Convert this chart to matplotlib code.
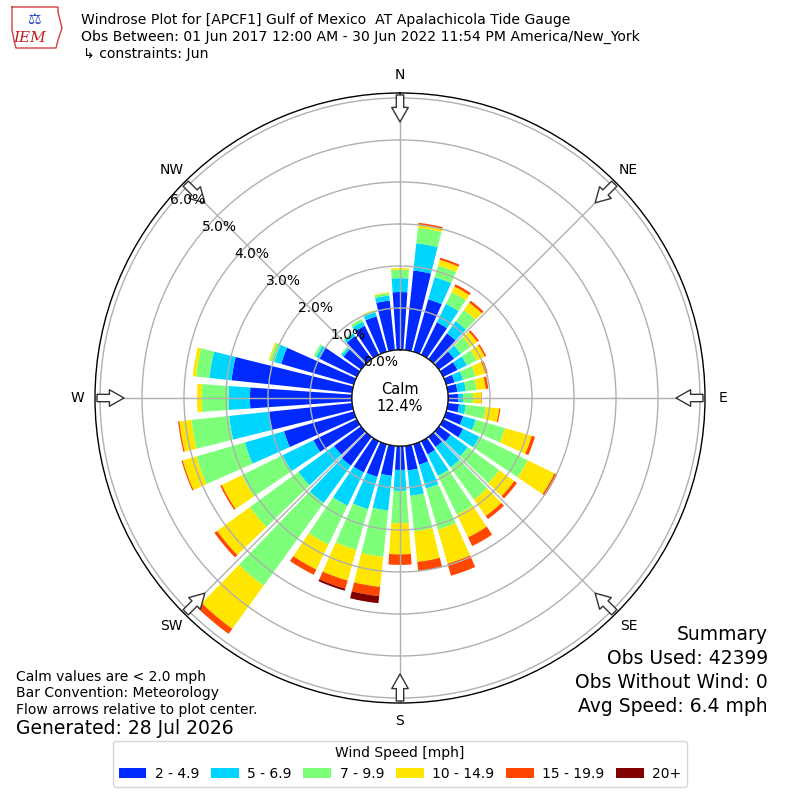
import numpy as np
import matplotlib
matplotlib.use("Agg")
import matplotlib.pyplot as plt
from matplotlib.patches import Patch, Circle
from matplotlib.lines import Line2D

# wind directions (deg, meteorological) and percent of obs in each speed class
directions = np.arange(0, 360, 10)
speed_2_5 = [1.38, 1.91, 1.30, 0.86, 0.76, 0.45, 0.38, 0.21, 0.23, 0.25, 0.27, 0.42,
             0.53, 0.35, 0.30, 0.35, 0.51, 0.59, 0.57, 0.72, 0.81, 0.83, 0.85, 0.80,
             1.15, 1.73, 2.00, 2.43, 2.89, 1.80, 1.00, 0.52, 0.68, 0.77, 0.88, 1.19]
speed_5_7 = [0.33, 0.65, 0.55, 0.49, 0.36, 0.20, 0.25, 0.21, 0.20, 0.11, 0.16, 0.31,
             0.43, 0.50, 0.60, 0.57, 0.59, 0.61, 0.50, 0.83, 0.80, 0.88, 1.10, 1.05,
             0.82, 0.97, 0.95, 0.51, 0.53, 0.17, 0.08, 0.06, 0.08, 0.11, 0.10, 0.12]
speed_7_10 = [0.20, 0.37, 0.29, 0.31, 0.33, 0.29, 0.26, 0.31, 0.26, 0.24, 0.48, 0.73,
              1.28, 0.93, 0.95, 1.03, 1.02, 0.85, 0.77, 1.11, 1.01, 1.03, 2.43, 1.43,
              1.08, 1.20, 0.90, 0.64, 0.32, 0.11, 0.06, 0.03, 0.03, 0.07, 0.05, 0.06]
speed_10_15 = [0.04, 0.08, 0.14, 0.15, 0.21, 0.19, 0.21, 0.24, 0.22, 0.20, 0.32, 0.66,
               0.71, 0.44, 0.48, 0.60, 0.84, 0.73, 0.74, 0.72, 0.76, 0.66, 1.27, 0.96,
               0.53, 0.34, 0.29, 0.11, 0.08, 0.03, 0.00, 0.00, 0.00, 0.00, 0.01, 0.02]
speed_15_20 = [0.00, 0.04, 0.05, 0.06, 0.06, 0.05, 0.04, 0.06, 0.06, 0.01, 0.03, 0.08,
               0.07, 0.08, 0.09, 0.23, 0.30, 0.22, 0.25, 0.22, 0.20, 0.14, 0.15, 0.08,
               0.04, 0.03, 0.03, 0.00, 0.00, 0.00, 0.00, 0.00, 0.00, 0.00, 0.00, 0.00]
speed_20 = [0.00, 0.00, 0.00, 0.00, 0.00, 0.00, 0.00, 0.00, 0.00, 0.00, 0.00, 0.00,
            0.00, 0.00, 0.00, 0.00, 0.00, 0.00, 0.00, 0.17, 0.05, 0.00, 0.00, 0.00,
            0.00, 0.00, 0.00, 0.00, 0.00, 0.00, 0.00, 0.00, 0.00, 0.00, 0.00, 0.00]
speed_labels = ["2 - 4.9", "5 - 6.9", "7 - 9.9", "10 - 14.9", "15 - 19.9", "20+"]
calm_pct = 12.4
rticks = [0, 1, 2, 3, 4, 5, 6]
compass = ["N", "NE", "E", "SE", "S", "SW", "W", "NW"]

series = [speed_2_5, speed_5_7, speed_7_10, speed_10_15, speed_15_20, speed_20]
colors = plt.cm.jet(np.linspace(0, 1, 7)[1:])

fig = plt.figure(figsize=(8, 8), dpi=100)
ax = fig.add_axes([0.11875, 0.12125, 0.7625, 0.7625], projection="polar")
ax.set_theta_zero_location("N")
ax.set_theta_direction(-1)

rorigin = -48 / 42.0
ax.set_rorigin(rorigin)
ax.set_ylim(0, 257 / 42.0)

theta = np.radians(directions)
width = np.radians(8)
bottom = np.zeros(len(directions))
for vals, col in zip(series, colors):
    vals = np.array(vals)
    ax.bar(theta, vals, width=width, bottom=bottom, color=col, linewidth=0, zorder=1)
    bottom += vals

ax.set_xticks(np.radians(np.arange(0, 360, 45)))
ax.set_xticklabels([])
ax.set_yticks(rticks)
ax.set_yticklabels([])
ax.grid(True, color="#b0b0b0", linewidth=1)
ax.spines["polar"].set_linewidth(1)

# radius labels, drawn on top of the arrows
for v in rticks:
    ax.annotate(f"{v:.1f}%", xy=(np.radians(310), v), xytext=(12.2, 3.8),
                textcoords="offset points", ha="center", va="center",
                fontsize=10, zorder=9, annotation_clip=False)

# calm circle
ax.add_patch(Circle((0.5, 0.5), 48 / 610.0, transform=ax.transAxes,
                    facecolor="white", edgecolor="black", lw=1, zorder=5))
ax.text(0.5, 0.5, f"Calm\n{calm_pct:.1f}%", transform=ax.transAxes,
        ha="center", va="center", fontsize=10.5, zorder=6)

# compass labels and inward flow arrows
r_lab = 323 / 42.0 + rorigin
r_tail = 303 / 42.0 + rorigin
r_tip = 276 / 42.0 + rorigin
for i, lab in enumerate(compass):
    t = np.radians(i * 45)
    ax.text(t, r_lab, lab, ha="center", va="center", fontsize=10, clip_on=False)
    ax.annotate("", xy=(t, r_tip), xytext=(t, r_tail), annotation_clip=False,
                arrowprops=dict(arrowstyle="simple,head_length=0.75,head_width=0.85,tail_width=0.38",
                                fc="white", ec="#333333", lw=1, mutation_scale=14,
                                shrinkA=0, shrinkB=0), zorder=7)

# header
fig.text(0.101, 1 - 20 / 800, "Windrose Plot for [APCF1] Gulf of Mexico  AT Apalachicola Tide Gauge",
         fontsize=10.1, va="center")
fig.text(0.101, 1 - 37 / 800, "Obs Between: 01 Jun 2017 12:00 AM - 30 Jun 2022 11:54 PM America/New_York",
         fontsize=10.1, va="center")
fig.text(0.104, 1 - 54 / 800, "\u21b3 constraints: Jun", fontsize=10.1, va="center")

# simple stand-in for the IEM logo
xs = np.array([12, 58, 58, 62, 58, 56, 16, 14, 12, 12]) / 800
ys = 1 - np.array([7, 7, 12, 28, 40, 48, 48, 40, 30, 7]) / 800
fig.add_artist(Line2D(xs, ys, color="#d04040", lw=1))
fig.text(30 / 800, 1 - 38 / 800, "IEM", color="#c02020", fontsize=11, style="italic",
         family="DejaVu Serif", ha="center", va="center")
fig.text(34 / 800, 1 - 20 / 800, "\u2696", color="#2040c0", fontsize=11, ha="center", va="center")

# footer notes
fig.text(0.02, 1 - 677 / 800, "Calm values are < 2.0 mph", fontsize=10, va="center")
fig.text(0.02, 1 - 693 / 800, "Bar Convention: Meteorology", fontsize=10, va="center")
fig.text(0.02, 1 - 710 / 800, "Flow arrows relative to plot center.", fontsize=10, va="center")
fig.text(0.02, 1 - 729 / 800, "Generated: 28 Jul 2026", fontsize=13.5, va="center")

summary = ["Summary", "Obs Used: 42399", "Obs Without Wind: 0", "Avg Speed: 6.4 mph"]
for k, line in enumerate(summary):
    fig.text(768 / 800, 1 - (635 + 24 * k) / 800, line, fontsize=13.5, ha="right", va="center")

handles = [Patch(facecolor=c, edgecolor="none") for c in colors]
fig.legend(handles, speed_labels, loc="lower center", bbox_to_anchor=(0.5, 0.008),
           ncol=6, title="Wind Speed [mph]", fontsize=10, title_fontsize=10,
           columnspacing=0.85, handletextpad=0.6)

fig.savefig("out.png", dpi=100)
